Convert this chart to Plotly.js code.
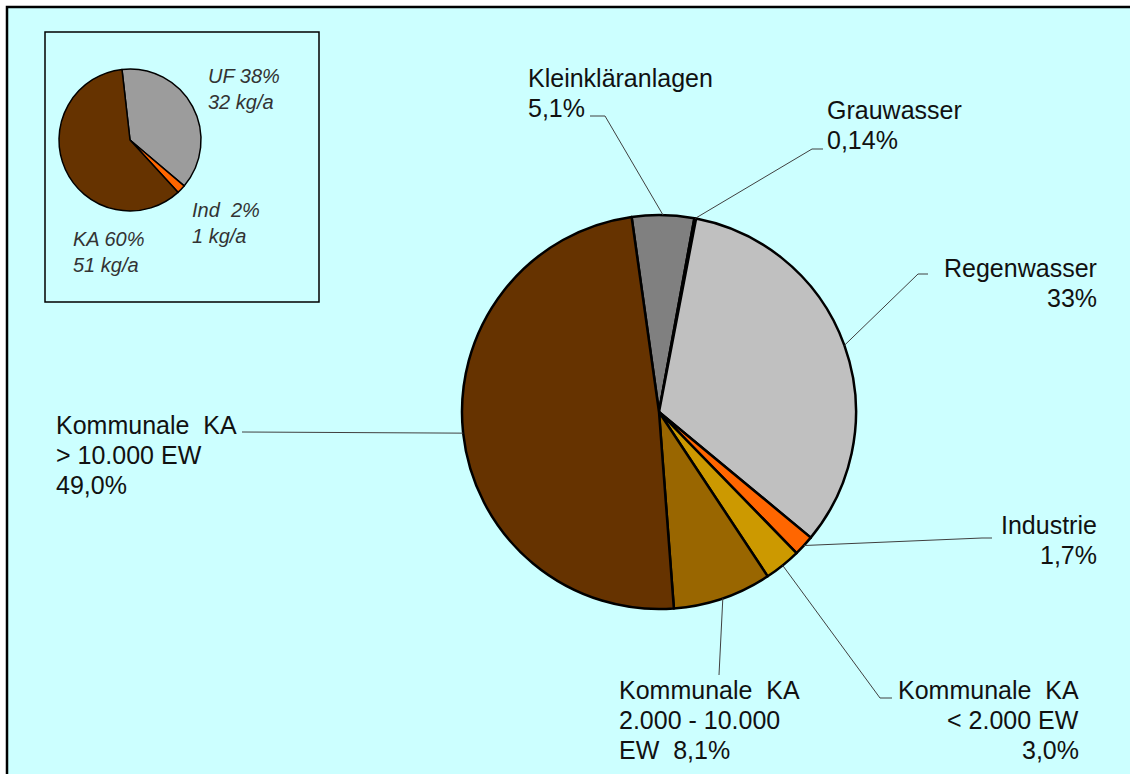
<!DOCTYPE html>
<html>
<head>
<meta charset="utf-8">
<script src="https://cdn.plot.ly/plotly-3.0.1.min.js"></script>
<style>html,body{margin:0;padding:0;background:#fff;}#chart{width:1130px;height:774px;}</style>
</head>
<body>
<div id="chart"></div>
<script>
// ---- data ----
const categories = ['Kleinkläranlagen', 'Grauwasser', 'Regenwasser', 'Industrie',
  'Kommunale KA < 2.000 EW', 'Kommunale KA 2.000 - 10.000 EW', 'Kommunale KA > 10.000 EW'];
const shares = [5.1, 0.14, 33, 1.7, 3.0, 8.1, 49.0];
const shareLabels = ['5,1%', '0,14%', '33%', '1,7%', '3,0%', '8,1%', '49,0%'];
const sliceColors = ['#808080', '#1a1a1a', '#C0C0C0', '#FF6600', '#CC9900', '#996600', '#663300'];

const insetCategories = ['UF', 'Ind', 'KA'];
const insetShares = [38, 2, 60];
const insetLoads = [32, 1, 51];
const insetColors = ['#9C9C9C', '#FF6600', '#663300'];

// ---- layout helpers ----
const W = 1130, H = 774;
const px = x => x / W;
const py = y => 1 - y / H;

const mainCx = 659, mainCy = 412, mainR = 197, mainRot = -8.0;
const insetCx = 130, insetCy = 140, insetR = 71, insetRot = -6.5;

const NB = '\u00a0';
const labelLines = [
  ['Kleinkläranlagen', shareLabels[0]],
  ['Grauwasser', shareLabels[1]],
  ['Regenwasser', shareLabels[2]],
  ['Industrie', shareLabels[3]],
  ['Kommunale' + NB + NB + 'KA', '&lt; 2.000 EW', shareLabels[4]],
  ['Kommunale' + NB + NB + 'KA', '2.000 - 10.000', 'EW' + NB + NB + shareLabels[5]],
  ['Kommunale' + NB + NB + 'KA', '&gt; 10.000 EW', shareLabels[6]]
];
// label placement (pixels): x, first-line center y, anchor
const labelPos = [
  [527, 78, 'left'], [826, 110, 'left'], [1098, 268, 'right'], [1098, 525, 'right'],
  [1080, 690, 'right'], [618, 690, 'left'], [55, 425, 'left']
];
const lineStep = 30;
// leader-line elbows (pixels) from pie edge outward
const leaderElbows = [
  [[605, 116], [590, 116]],
  [[812, 149], [823, 149]],
  [[918, 274], [928, 274]],
  [[982, 538], [992, 538]],
  [[880, 698], [892, 698]],
  [[719, 675]],
  [[242, 432]]
];

// compute slice mid angles from data
const total = shares.reduce((a, b) => a + b, 0);
let cum = 0;
const shapes = [];
shapes.push({type: 'rect', xref: 'paper', yref: 'paper', layer: 'below',
  x0: px(7), x1: px(1140), y0: py(7), y1: py(790),
  fillcolor: '#CCFFFF', line: {color: '#000', width: 2.5}});
shapes.push({type: 'rect', xref: 'paper', yref: 'paper', layer: 'below',
  x0: px(45), x1: px(319), y0: py(32), y1: py(302),
  fillcolor: '#CCFFFF', line: {color: '#000', width: 1.5}});

shares.forEach((v, i) => {
  const mid = mainRot + (cum + v / 2) / total * 360;
  cum += v;
  const a = mid * Math.PI / 180;
  const ex = mainCx + mainR * Math.sin(a);
  const ey = mainCy - mainR * Math.cos(a);
  let path = 'M' + px(ex) + ',' + py(ey);
  leaderElbows[i].forEach(p => { path += ' L' + px(p[0]) + ',' + py(p[1]); });
  shapes.push({type: 'path', xref: 'paper', yref: 'paper', layer: 'above', path: path,
    line: {color: '#404040', width: 1}});
});

const annotations = [];
labelLines.forEach((lines, i) => {
  lines.forEach((t, k) => {
    annotations.push({
      xref: 'paper', yref: 'paper', x: px(labelPos[i][0]), y: py(labelPos[i][1] + k * lineStep),
      xanchor: labelPos[i][2], yanchor: 'middle', align: labelPos[i][2],
      text: t, showarrow: false, borderpad: 0,
      font: {family: 'Liberation Sans, Arial, sans-serif', size: 25, color: '#111'}
    });
  });
});

const insetPos = [[207, 89], [191, 223], [72, 252]];
insetCategories.forEach((c, i) => {
  const sep = (c === 'Ind') ? NB + NB : ' ';
  annotations.push({
    xref: 'paper', yref: 'paper', x: px(insetPos[i][0]), y: py(insetPos[i][1]),
    xanchor: 'left', yanchor: 'middle', align: 'left', showarrow: false, borderpad: 0,
    text: c + sep + insetShares[i] + '%<br>' + insetLoads[i] + ' kg/a',
    font: {family: 'Liberation Sans, Arial, sans-serif', size: 20, color: '#333', style: 'italic'}
  });
});

const traces = [
  {
    type: 'pie', labels: categories, values: shares, sort: false,
    direction: 'clockwise', rotation: mainRot, textinfo: 'none', hoverinfo: 'label+percent',
    marker: {colors: sliceColors, line: {color: '#000', width: 2.5}},
    domain: {x: [px(mainCx - mainR), px(mainCx + mainR)], y: [py(mainCy + mainR), py(mainCy - mainR)]},
    showlegend: false
  },
  {
    type: 'pie', labels: insetCategories, values: insetShares, sort: false,
    direction: 'clockwise', rotation: insetRot, textinfo: 'none', hoverinfo: 'label+percent',
    marker: {colors: insetColors, line: {color: '#000', width: 1.5}},
    domain: {x: [px(insetCx - insetR), px(insetCx + insetR)], y: [py(insetCy + insetR), py(insetCy - insetR)]},
    showlegend: false
  }
];

const layout = {
  width: W, height: H, margin: {l: 0, r: 0, t: 0, b: 0},
  paper_bgcolor: '#ffffff', showlegend: false,
  shapes: shapes, annotations: annotations
};

Plotly.newPlot('chart', traces, layout, {displayModeBar: false, staticPlot: true});
</script>
</body>
</html>
